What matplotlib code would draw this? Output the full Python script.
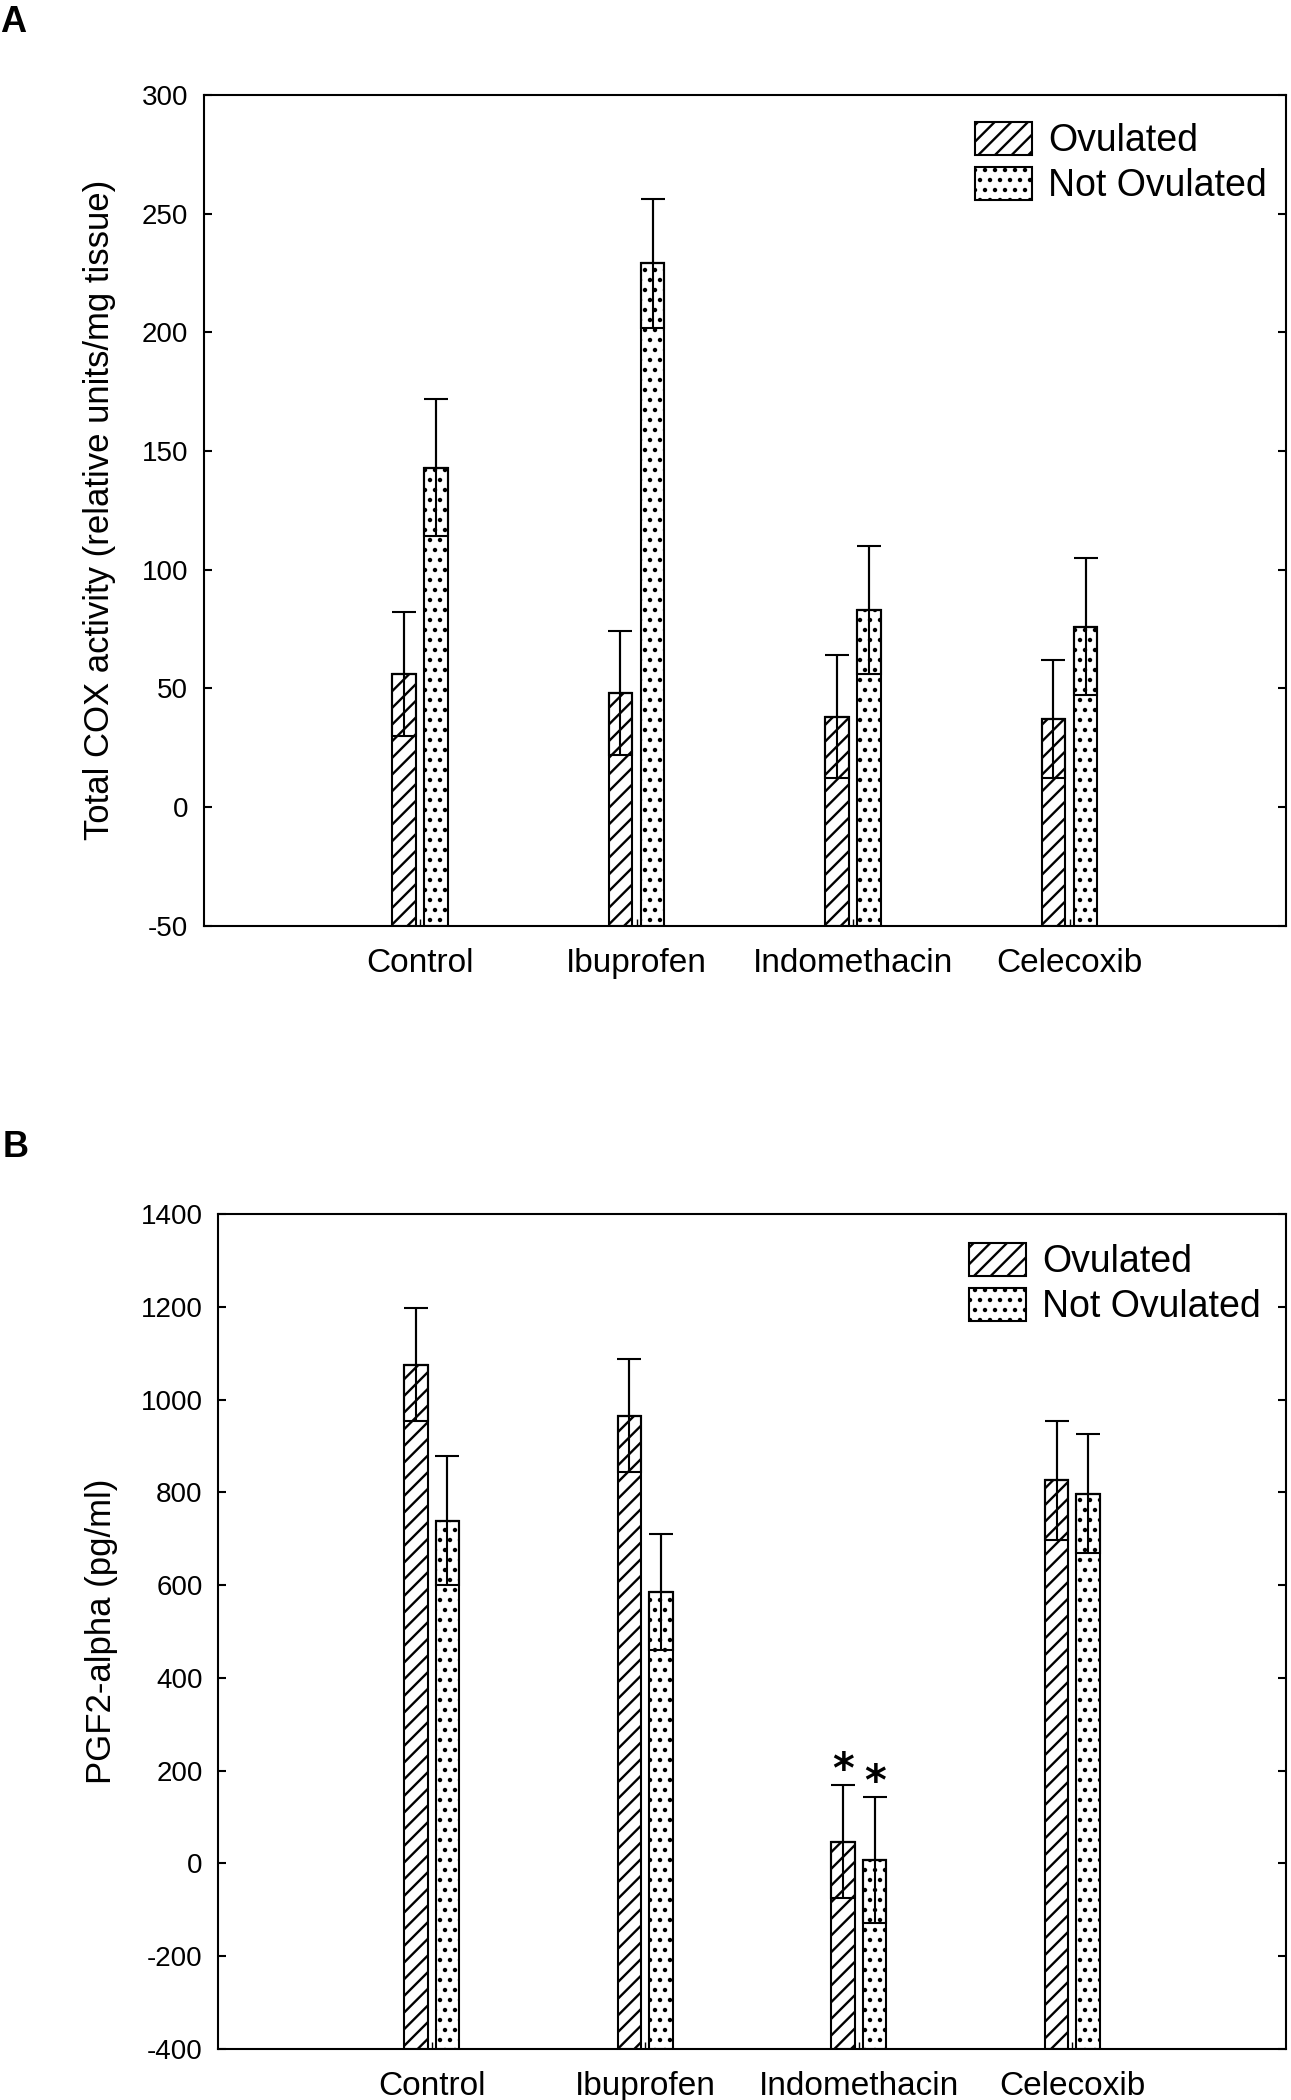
import matplotlib
matplotlib.use("Agg")
import matplotlib.pyplot as plt
import numpy as np
from matplotlib.backend_bases import GraphicsContextBase
from matplotlib.path import Path

plt.rcParams['font.family'] = ['Liberation Sans', 'DejaVu Sans']
plt.rcParams['hatch.linewidth'] = 1.7
plt.rcParams['hatch.color'] = 'black'


# sparser dot pattern for the "Not Ovulated" fill
def _hatch_path(self, density=6.0):
    hatch = self.get_hatch()
    if hatch is None:
        return None
    if set(hatch) == {'.'}:
        return Path.hatch(hatch, 10)
    return Path.hatch(hatch, int(density))


GraphicsContextBase.get_hatch_path = _hatch_path

categories = ['Control', 'Ibuprofen', 'Indomethacin', 'Celecoxib']
series_labels = ['Ovulated', 'Not Ovulated']

# Panel A: Total COX activity (relative units/mg tissue)
a_ov_mean = [56, 48, 38, 37]
a_ov_se = [26, 26, 26, 25]
a_not_mean = [143, 229, 83, 76]
a_not_se = [29, 27, 27, 29]
a_yticks = [-50, 0, 50, 100, 150, 200, 250, 300]

# Panel B: PGF2-alpha (pg/ml)
b_ov_mean = [1075, 965, 47, 826]
b_ov_se = [122, 122, 122, 128]
b_not_mean = [739, 585, 8, 797]
b_not_se = [139, 125, 136, 128]
b_yticks = [-400, -200, 0, 200, 400, 600, 800, 1000, 1200, 1400]
b_star = [False, False, True, False]

W, H = 1291, 2100
fig = plt.figure(figsize=(W / 100, H / 100), dpi=100)

LW = 1.5
bar_w = 0.11
off = 0.074
hatches = ['//', '.']


def draw_panel(ax, ov_m, ov_s, nt_m, nt_s, yticks, ylabel, label_x, stars=None):
    x = np.arange(1, len(categories) + 1)
    base = yticks[0]
    ax.set_xlim(0, 5)
    ax.set_ylim(yticks[0], yticks[-1])
    handles = []
    for k, (m, s) in enumerate([(ov_m, ov_s), (nt_m, nt_s)]):
        xs = x + (-off if k == 0 else off)
        m = np.array(m, float)
        s = np.array(s, float)
        b = ax.bar(xs, m - base, bottom=base, width=bar_w, color='white',
                   edgecolor='black', linewidth=LW, hatch=hatches[k],
                   label=series_labels[k], zorder=2)
        handles.append(b)
        ax.bar(xs, s, bottom=m - s, width=bar_w, fill=False,
               edgecolor='black', linewidth=LW, zorder=3)
        ax.vlines(xs, m - s, m + s, color='black', linewidth=LW, zorder=4)
        ax.errorbar(xs, m, yerr=[np.zeros_like(s), s], fmt='none',
                    ecolor='black', elinewidth=LW, capsize=8.3,
                    capthick=LW, zorder=4)
        if stars is not None:
            for xi, mi, si, st in zip(xs, m, s, stars):
                if st:
                    ax.annotate('*', xy=(xi, mi + si), xytext=(0, -5),
                                textcoords='offset points', ha='center',
                                va='bottom', fontsize=30, fontweight='bold',
                                family='DejaVu Sans')
    ax.set_xticks(x)
    ax.set_xticklabels(categories, fontsize=24)
    ax.set_yticks(yticks)
    ax.set_yticklabels([str(t) for t in yticks], fontsize=20)
    ax.tick_params(axis='y', direction='in', length=6, width=LW, pad=11,
                   right=True)
    ax.tick_params(axis='x', direction='in', length=5, width=1, pad=16)
    for sp in ax.spines.values():
        sp.set_linewidth(LW)
    ax.set_ylabel(ylabel, fontsize=25)
    ax.yaxis.set_label_coords(label_x, 0.5)
    return handles


leg_kw = dict(loc='upper left', frameon=False, fontsize=27, handlelength=1.52,
              handleheight=0.96, handletextpad=0.42, labelspacing=0.21,
              borderpad=0, borderaxespad=0)

# Panel A
axA = fig.add_axes([203.5 / W, 1 - 925.5 / H, (1286 - 203.5) / W, (925.5 - 95) / H])
hA = draw_panel(axA, a_ov_mean, a_ov_se, a_not_mean, a_not_se, a_yticks,
                'Total COX activity (relative units/mg tissue)', -0.081)
axA.legend(handles=hA, bbox_to_anchor=((975 - 203.5) / 1082.5, (925.5 - 122) / 830.5),
           **leg_kw)

# Panel B
axB = fig.add_axes([218 / W, 1 - 2049 / H, (1286 - 218) / W, (2049 - 1214) / H])
hB = draw_panel(axB, b_ov_mean, b_ov_se, b_not_mean, b_not_se, b_yticks,
                'PGF2-alpha (pg/ml)', -0.094, stars=b_star)
axB.legend(handles=hB, bbox_to_anchor=((969 - 218) / 1068, (2049 - 1243) / 835),
           **leg_kw)

fig.text(0.0, 1 - 32 / H, 'A', fontsize=26, fontweight='bold', va='baseline', ha='left')
fig.text(3 / W, 1 - 1157 / H, 'B', fontsize=26, fontweight='bold', va='baseline', ha='left')

fig.savefig('out.png', dpi=100)
